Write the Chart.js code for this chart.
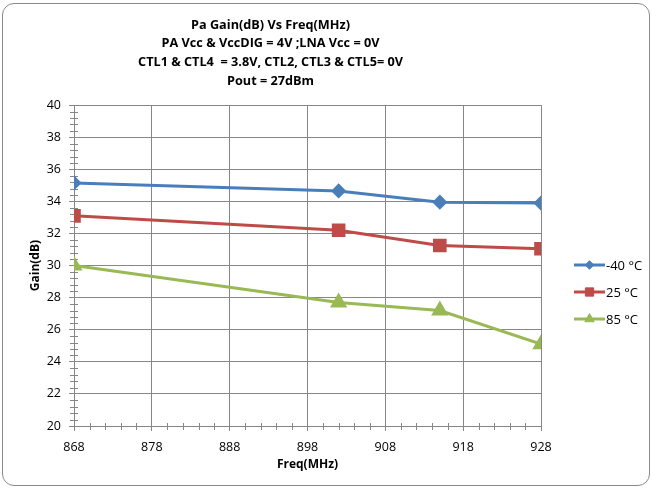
<!DOCTYPE html>
<html>
<head>
<meta charset="utf-8">
<script src="https://cdn.jsdelivr.net/npm/chart.js"></script>
<style>
  body { margin: 0; background: #fff; }
  #wrap { position: relative; width: 652px; height: 489px; }
  #chart { position: absolute; left: 0; top: 0; }
  #frame {
    position: absolute; left: 2px; top: 3px; width: 646px; height: 481px;
    border: 1px solid #8a8a8a; border-radius: 12px; pointer-events: none;
  }
</style>
</head>
<body>
<div id="wrap">
  <canvas id="chart" width="652" height="489"></canvas>
  <div id="frame"></div>
</div>
<script>
// Dữ liệu
const freq = [868, 902, 915, 928];
const gainM40 = [35.15, 34.65, 33.95, 33.9];
const gain25 = [33.1, 32.2, 31.25, 31.05];
const gain85 = [30.0, 27.7, 27.2, 25.1];
const seriesLabels = ['-40 °C', '25 °C', '85 °C'];
const titleLines = [
    'Pa Gain(dB) Vs Freq(MHz)',
    'PA Vcc & VccDIG = 4V ;LNA Vcc = 0V',
    'CTL1 & CTL4  = 3.8V, CTL2, CTL3 & CTL5= 0V',
    'Pout = 27dBm'
];

const gridColor = '#868686';
const fontFamily = "'Open Sans', 'Liberation Sans', sans-serif";

function toPoints(values) {
    return values.map((v, i) => ({ x: freq[i], y: v }));
}

// Vạch chia phụ trên trục
const minorTicks = {
    id: 'minorTicks',
    beforeDatasetsDraw(chart) {
        const ctx = chart.ctx;
        const xs = chart.scales.x, ys = chart.scales.y;
        ctx.save();
        ctx.strokeStyle = gridColor;
        ctx.lineWidth = 1;
        ctx.beginPath();
        for (let v = 870; v < 928; v += 2) {
            if (v % 10 === 8) continue;
            const px = Math.round(xs.getPixelForValue(v)) + 0.5;
            ctx.moveTo(px, ys.bottom - 3);
            ctx.lineTo(px, ys.bottom + 4);
        }
        for (let k = 1; k < 50; k++) {
            if (k % 5 === 0) continue;
            const py = Math.round(ys.getPixelForValue(20 + k * 0.4)) + 0.5;
            ctx.moveTo(xs.left - 4, py);
            ctx.lineTo(xs.left + 4, py);
        }
        ctx.stroke();
        ctx.restore();
    }
};

// Chú thích kiểu Excel: đường + điểm
const lineLegend = {
    id: 'lineLegend',
    afterDraw(chart) {
        const ctx = chart.ctx;
        ctx.save();
        chart.data.datasets.forEach((ds, i) => {
            const y = 265 + i * 27;
            ctx.strokeStyle = ds.borderColor;
            ctx.lineWidth = 3;
            ctx.beginPath();
            ctx.moveTo(574, y);
            ctx.lineTo(605, y);
            ctx.stroke();
            ctx.fillStyle = ds.backgroundColor;
            ctx.strokeStyle = ds.backgroundColor;
            ctx.lineWidth = 1;
            Chart.helpers.drawPoint(ctx, {
                pointStyle: ds.pointStyle,
                radius: ds.pointRadius * 0.78,
                borderWidth: 1
            }, 589.5, y);
            ctx.fillStyle = '#000';
            ctx.font = '13px ' + fontFamily;
            ctx.textBaseline = 'middle';
            ctx.textAlign = 'left';
            ctx.fillText(ds.label, 606, y + 1);
        });
        ctx.restore();
    }
};

new Chart(document.getElementById('chart'), {
    type: 'line',
    data: {
        datasets: [{
            label: seriesLabels[0],
            data: toPoints(gainM40),
            borderColor: '#4a7ebb',
            backgroundColor: '#4a7ebb',
            pointStyle: 'rectRot',
            pointRadius: 5.5,
            borderWidth: 3
        }, {
            label: seriesLabels[1],
            data: toPoints(gain25),
            borderColor: '#be4b48',
            backgroundColor: '#be4b48',
            pointStyle: 'rect',
            pointRadius: 7.5,
            borderWidth: 3
        }, {
            label: seriesLabels[2],
            data: toPoints(gain85),
            borderColor: '#98b954',
            backgroundColor: '#98b954',
            pointStyle: 'triangle',
            pointRadius: 7,
            borderWidth: 3
        }]
    },
    options: {
        responsive: false,
        animation: false,
        layout: { padding: { left: 0, right: 111, top: 0, bottom: 0 } },
        elements: { line: { tension: 0 }, point: { borderWidth: 1 } },
        plugins: {
            legend: { display: false },
            tooltip: { enabled: false },
            title: {
                display: true,
                text: titleLines,
                color: '#000',
                font: { family: fontFamily, size: 12.7, weight: 'bold', lineHeight: 1.46 },
                padding: { top: 16, bottom: 15 }
            }
        },
        scales: {
            x: {
                type: 'linear',
                min: 868,
                max: 928,
                afterFit(scale) { scale.height = 63; },
                ticks: {
                    stepSize: 10,
                    color: '#000',
                    padding: 9,
                    font: { family: fontFamily, size: 12.5 }
                },
                grid: { color: gridColor, lineWidth: 1, tickLength: 5, tickColor: gridColor },
                border: { color: gridColor },
                title: {
                    display: true,
                    text: 'Freq(MHz)',
                    color: '#000',
                    font: { family: fontFamily, size: 12, weight: 'bold' },
                    padding: { top: 0, bottom: 17 }
                }
            },
            y: {
                min: 20,
                max: 40,
                afterFit(scale) { scale.width = 74; },
                ticks: {
                    stepSize: 2,
                    color: '#000',
                    padding: 8,
                    font: { family: fontFamily, size: 12.5 }
                },
                grid: { color: gridColor, lineWidth: 1, tickLength: 5, tickColor: gridColor },
                border: { color: gridColor },
                title: {
                    display: true,
                    text: 'Gain(dB)',
                    color: '#000',
                    font: { family: fontFamily, size: 12, weight: 'bold' },
                    padding: { top: 28.5, bottom: 0 }
                }
            }
        }
    },
    plugins: [minorTicks, lineLegend]
});
</script>
</body>
</html>
